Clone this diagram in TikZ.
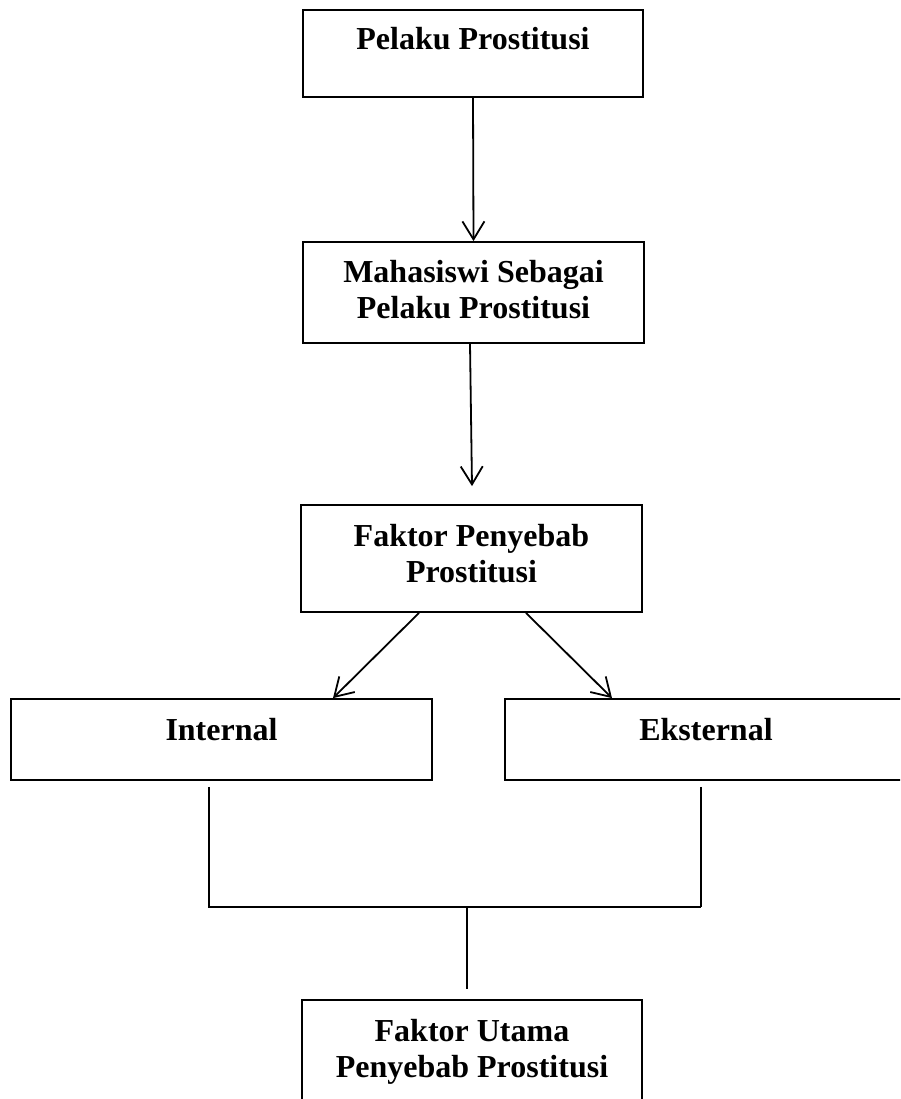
\documentclass[tikz,border=0pt]{standalone}
\usepackage{fontspec}
\setmainfont{Liberation Serif}
\usetikzlibrary{arrows.meta}
\begin{document}
\begin{tikzpicture}[x=1pt,y=-1pt,
  box/.style={draw, line width=1.8pt, rectangle, inner sep=0pt},
  lbl/.style={font=\fontsize{32}{36}\selectfont\bfseries, align=center, anchor=base, inner sep=0pt},
  arr/.style={line width=1.8pt, -{Straight Barb[length=18pt,width=22pt]}},
  ln/.style={line width=1.8pt}]
\useasboundingbox (0,0) rectangle (900,1099);
\clip (0,0) rectangle (900,1099);
% boxes
\node[box, minimum width=340pt, minimum height=87pt] (b1) at (473,53.5) {};
\node[box, minimum width=341pt, minimum height=101pt] (b2) at (473.5,292.5) {};
\node[box, minimum width=341pt, minimum height=107pt] (b3) at (471.5,558.5) {};
\node[box, minimum width=421pt, minimum height=81pt] (b4) at (221.5,739.5) {};
\node[box, minimum width=402pt, minimum height=81pt] (b5) at (706,739.5) {};
\node[box, minimum width=340pt, minimum height=130pt] (b6) at (472,1065) {};
% texts (base anchor = baseline of the last line)
\node[lbl] (t1) at (473,50) {Pelaku Prostitusi};
\node[lbl] (t2) at (473.5,318) {Mahasiswi Sebagai\\Pelaku Prostitusi};
\node[lbl] (t3) at (471.5,582) {Faktor Penyebab\\Prostitusi};
\node[lbl] (t4) at (221.5,740) {Internal};
\node[lbl] (t5) at (706,740) {Eksternal};
\node[lbl] (t6) at (472,1077) {Faktor Utama\\Penyebab Prostitusi};
% junction points
\coordinate (jl) at (209,907);
\coordinate (jr) at (701,907);
\coordinate (jm) at (467,907);
% connectors
\draw[arr] (b1.south) -- (b2.north);
\draw[arr] ([xshift=-3.5pt]b2.south) -- ([xshift=0.5pt,yshift=18pt]b3.north);
\draw[arr] ([xshift=-52.5pt]b3.south) -- ([xshift=111.5pt]b4.north);
\draw[arr] ([xshift=54.5pt]b3.south) -- ([xshift=-94pt]b5.north);
\draw[ln] ([xshift=-12.5pt,yshift=-6pt]b4.south) -- (jl) -- (jr);
\draw[ln] ([xshift=-5pt,yshift=-6pt]b5.south) -- (jr);
\draw[ln] (jm) -- ([xshift=-5pt,yshift=10pt]b6.north);
\end{tikzpicture}
\end{document}
